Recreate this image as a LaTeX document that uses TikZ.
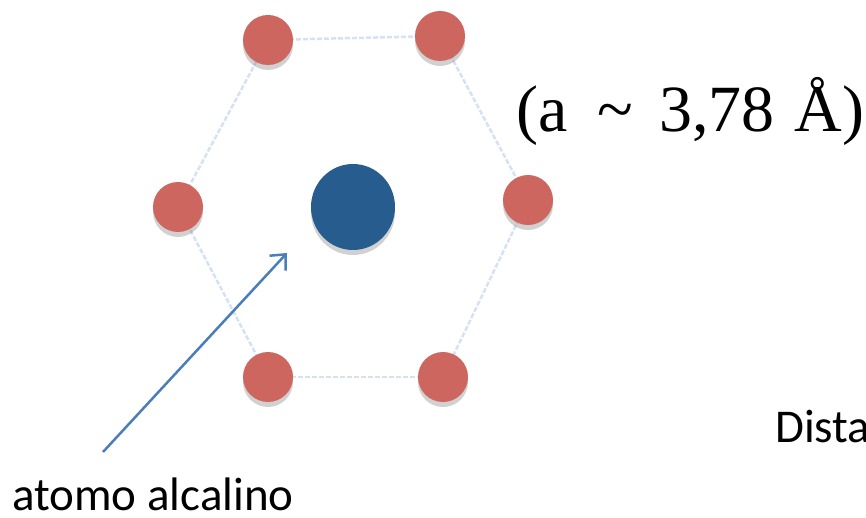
\documentclass[tikz,border=0pt]{standalone}
\usepackage{fontspec}
\setmainfont{Carlito}
\newfontfamily\serifA{Liberation Serif}
\usetikzlibrary{arrows.meta,shadows,backgrounds,shapes.geometric}
\definecolor{atomred}{RGB}{205,102,95}
\definecolor{atomblue}{RGB}{38,92,142}
\definecolor{hexblue}{RGB}{214,226,242}
\definecolor{arrowblue}{RGB}{74,126,187}
\begin{document}
\begin{tikzpicture}[x=1pt,y=-1pt,
  atom/.style={circle,fill=atomred,minimum size=50pt,inner sep=0pt,
    drop shadow={shadow xshift=0pt,shadow yshift=-5pt,opacity=0.3,fill=black!60}},
  alkali/.style={ellipse,fill=atomblue,minimum width=84pt,minimum height=86pt,inner sep=0pt,
    drop shadow={shadow xshift=0pt,shadow yshift=-5pt,opacity=0.3,fill=black!60}},
  hexedge/.style={draw=hexblue,line width=2.5pt,dash pattern=on 5pt off 2pt},
  pointer/.style={draw=arrowblue,line width=2.5pt,-{Straight Barb[length=12pt,width=22pt,line width=2.5pt]}},
  label/.style={inner sep=0pt,font=\fontsize{47}{56}\selectfont}
]
\useasboundingbox (0,0) rectangle (866,518);
\node[atom] (tl) at (268,40) {};
\node[atom] (tr) at (440,36) {};
\node[atom] (l) at (178,207) {};
\node[atom] (r) at (528,200) {};
\node[atom] (bl) at (268,377) {};
\node[atom] (br) at (443,377) {};
\node[alkali] (c) at (353,207) {};
\begin{scope}[on background layer]
\draw[hexedge] (tl.center) -- (tr.center);
\draw[hexedge] (tr.center) -- (r.center);
\draw[hexedge] (r.center) -- (br.center);
\draw[hexedge] (br.center) -- (bl.center);
\draw[hexedge] (bl.center) -- (l.center);
\draw[hexedge] (l.center) -- (tl.center);
\end{scope}
\node[inner sep=0pt,anchor=base west,font=\serifA\fontsize{66}{72}\selectfont] (lat) at (516,132) {(a\hspace{0.45em}\char"7E\hspace{0.4em}3,78\hspace{0.3em}Å)};
\node[label,anchor=base west] (dist) at (775,442) {Dista};
\node[label,anchor=base west] (alk) at (12,510) {atomo alcalino};
\coordinate (start) at (103,452);
\coordinate (tip) at (287,253);
\draw[pointer] (start) -- (tip);
\end{tikzpicture}
\end{document}
